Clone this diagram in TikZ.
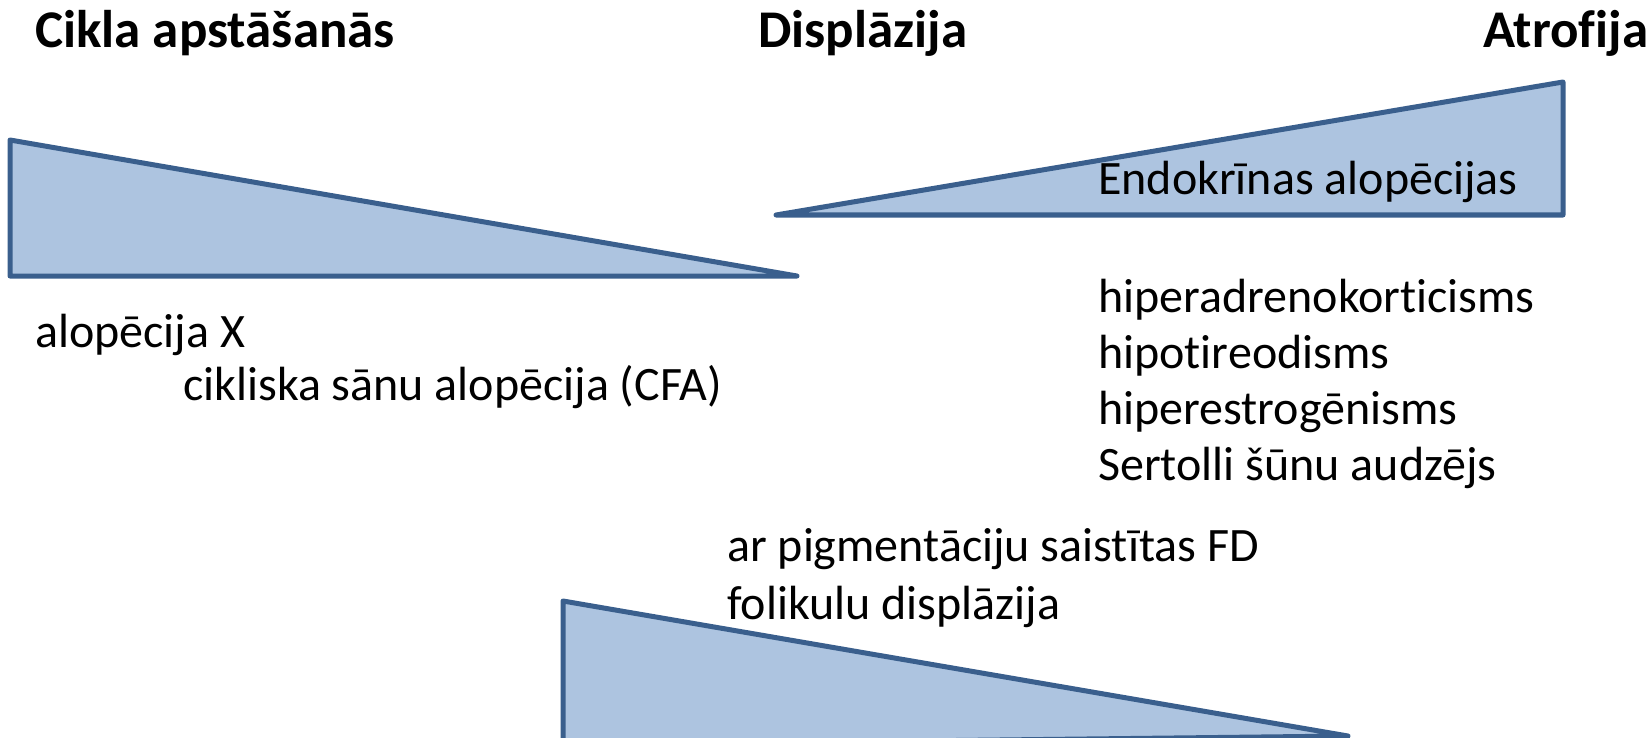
\documentclass[tikz,border=0pt]{standalone}
\usepackage{fontspec}
\setmainfont[Ligatures=NoCommon,RawFeature={-liga;-clig;-calt;-rlig}]{Carlito}
\usetikzlibrary{positioning}
\definecolor{wedgefill}{RGB}{173,196,224}
\definecolor{wedgeline}{RGB}{58,95,141}
\begin{document}
\begin{tikzpicture}[
x=1pt,y=-1pt,
wedge/.style={
fill=wedgefill,
draw=wedgeline,
line width=5pt,
line join=round,
line cap=round
},
head/.style={
font=\fontsize{53}{63}\selectfont\bfseries,
inner sep=0pt,
anchor=base west
},
lbl/.style={
font=\fontsize{48}{58}\selectfont,
inner sep=0pt,
anchor=base west
},
node distance=56pt
]
\useasboundingbox (0,0) rectangle (1651,738);

% wedges
\draw[wedge] (10,140) -- (10,276) -- (797,276) -- cycle;
\draw[wedge] (776,215) -- (1563,82) -- (1563,215) -- cycle;
\draw[wedge] (563,601) -- (563,745) -- (1348,736) -- cycle;

% headings
\node[head] (cikls) at (35,48) {Cikla apstāšanās};
\node[head] (displ) at (758,48) {Displāzija};
\node[head] (atrof) at (1483,48) {Atrofija};

% labels
\node[lbl] (endo) at (1098,195) {Endokrīnas alopēcijas};
\node[lbl] (alx) at (35,347) {alopēcija X};
\node[lbl] (cfa) at (183,400) {cikliska sānu alopēcija (CFA)};
\node[lbl] (hac) at (1098,312) {hiperadrenokorticisms};
\node[lbl, below=of hac.base west, anchor=base west] (hipo) {hipotireodisms};
\node[lbl, below=of hipo.base west, anchor=base west] (hest) {hiperestrogēnisms};
\node[lbl, below=of hest.base west, anchor=base west] (sert) {Sertolli šūnu audzējs};
\node[lbl] (pig) at (727,561) {ar pigmentāciju saistītas FD};
\node[lbl, below=58pt of pig.base west, anchor=base west] (fd) {folikulu displāzija};

\end{tikzpicture}
\end{document}
